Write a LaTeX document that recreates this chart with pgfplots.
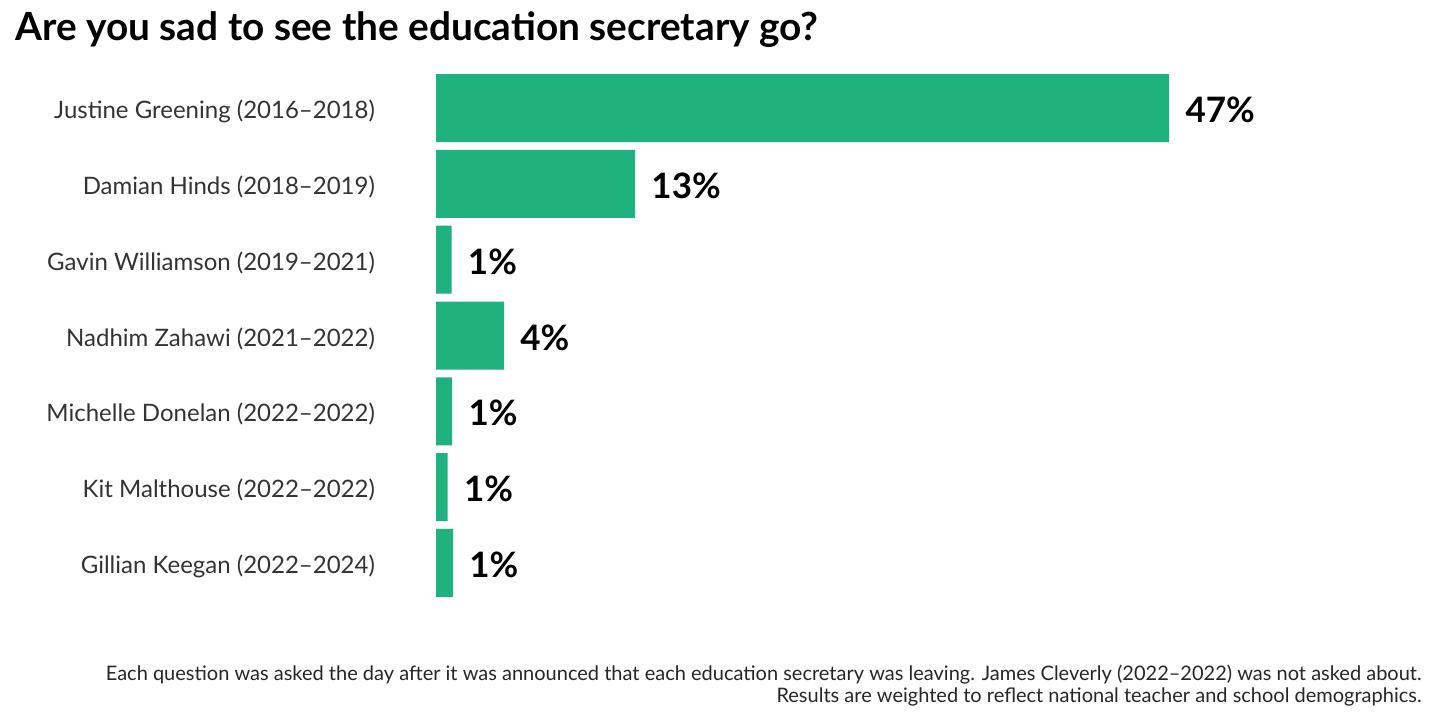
\documentclass[border=0pt]{standalone}
\usepackage{fontspec}
\setmainfont{Lato}
\usepackage{pgfplots}
\usepackage{pgfplotstable}
\pgfplotsset{compat=1.18}
\definecolor{bargreen}{RGB}{31,178,126}
\definecolor{labgray}{RGB}{51,51,51}
\pgfplotstableread{
y x lab
0 47.0 47
1 12.76 13
2 1.0 1
3 4.36 4
4 1.04 1
5 0.75 1
6 1.09 1
}\data
\begin{document}
\begin{tikzpicture}
\path[use as bounding box] (0,0) rectangle (720bp,-360bp);
\node[anchor=base west, inner sep=0, font=\fontsize{19.4bp}{21bp}\selectfont\bfseries] at (7.5bp,-20bp) {Are you sad to see the education secretary go?};
\begin{axis}[
  at={(218bp,-35.05bp)}, anchor=north west,
  scale only axis, width=468bp, height=265.4bp,
  xbar, bar width=34bp, bar shift=0pt,
  xmin=0, xmax=60, ymin=-0.5, ymax=6.5, y dir=reverse,
  axis x line=none, axis y line*=left,
  y axis line style={draw=none},
  major tick length=0pt, ytick style={draw=none},
  ytick={0,...,6},
  yticklabels={Justine Greening (2016--2018), Damian Hinds (2018--2019), Gavin Williamson (2019--2021), Nadhim Zahawi (2021--2022), Michelle Donelan (2022--2022), Kit Malthouse (2022--2022), Gillian Keegan (2022--2024)},
  yticklabel style={font=\fontsize{12bp}{14bp}\selectfont, text=labgray, anchor=east, xshift=-27bp, yshift=-1.5bp},
  clip=false,
]
\addplot[fill=bargreen, draw=none,
  point meta=explicit symbolic,
  nodes near coords={\pgfplotspointmeta\%},
  nodes near coords style={anchor=west, inner sep=0pt, xshift=8bp, yshift=-1bp, font=\fontsize{17.5bp}{19bp}\selectfont\bfseries, text=black}]
  table[x=x, y=y, meta=lab]{\data};
\end{axis}
\node[anchor=base east, inner sep=0, font=\fontsize{10bp}{12bp}\selectfont, text=black!85] at (711bp,-340bp) {Each question was asked the day after it was announced that each education secretary was leaving. James Cleverly (2022--2022) was not asked about.};
\node[anchor=base east, inner sep=0, font=\fontsize{10bp}{12bp}\selectfont, text=black!85] at (711bp,-351bp) {Results are weighted to reflect national teacher and school demographics.};
\end{tikzpicture}
\end{document}
